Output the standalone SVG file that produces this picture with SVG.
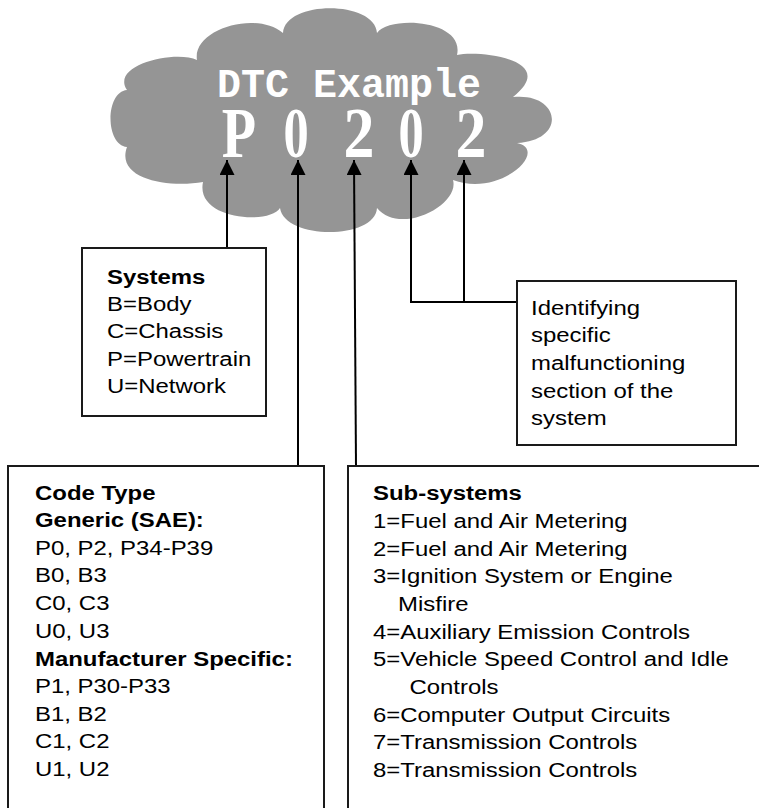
<svg xmlns="http://www.w3.org/2000/svg" width="759" height="808" viewBox="0 0 759 808">
<style>
.box{fill:#fff;stroke:#1a1a1a;stroke-width:2}
.t{font-family:"Liberation Sans",Arial,sans-serif;font-size:21px;fill:#000}
.b{font-weight:bold}
.conn{fill:none;stroke:#000;stroke-width:2}
.title{font-family:"Liberation Mono","Courier New",monospace;font-weight:bold;font-size:40px;fill:#fff}
.code{font-family:"Liberation Serif","Times New Roman",serif;font-weight:bold;font-size:72px;fill:#fff}
</style>
<defs>
<marker id="ah" markerUnits="userSpaceOnUse" markerWidth="16" markerHeight="16" refX="15" refY="7.5" orient="auto">
<path d="M0,0 L15,7.5 L0,15 Z" fill="#000"/>
</marker>
</defs>
<rect width="759" height="808" fill="#fff"/>
<g id="cloud">
<path fill="#959595" d="M197,60 C192,30 255,10 283,33 C285,0 375,0 377,33 C390,15 465,20 457,55 C480,50 560,60 513,97 C560,92 568,140 517,143 C550,150 500,198 453,180 C460,205 400,236 377,208 C375,240 285,240 280,208 C270,225 195,220 203,182 C170,188 115,180 127,147 C105,145 105,92 127,90 C110,65 175,50 197,60 Z"/>
<text class="title" x="217" y="97">DTC Example</text>
<text class="code" text-anchor="middle" transform="translate(239,157) scale(0.78,1)">P</text>
<text class="code" text-anchor="middle" transform="translate(296,157) scale(0.7,1)">0</text>
<text class="code" text-anchor="middle" transform="translate(359,157) scale(0.86,1)">2</text>
<text class="code" text-anchor="middle" transform="translate(411,157) scale(0.7,1)">0</text>
<text class="code" text-anchor="middle" transform="translate(471,157) scale(0.86,1)">2</text>
</g>
<g id="connectors">
<path class="conn" d="M227,248 V160" marker-end="url(#ah)"/>
<path class="conn" d="M298,466 V160" marker-end="url(#ah)"/>
<path class="conn" d="M356,466 L354,160" marker-end="url(#ah)"/>
<path class="conn" d="M517,302 H411 V160" marker-end="url(#ah)"/>
<path class="conn" d="M464,302 V160" marker-end="url(#ah)"/>
</g>
<g id="systems">
<rect class="box" x="82" y="248" width="184" height="168"/>
<g transform="translate(107,0) scale(1.14,1)">
<text class="t b" x="0" y="284">Systems</text>
<text class="t" x="0" y="311">B=Body</text>
<text class="t" x="0" y="338">C=Chassis</text>
<text class="t" x="0" y="366">P=Powertrain</text>
<text class="t" x="0" y="393">U=Network</text>
</g>
</g>
<g id="identifying">
<rect class="box" x="517" y="281" width="219" height="164"/>
<g transform="translate(531,0) scale(1.14,1)">
<text class="t" x="0" y="315">Identifying</text>
<text class="t" x="0" y="342">specific</text>
<text class="t" x="0" y="370">malfunctioning</text>
<text class="t" x="0" y="398">section of the</text>
<text class="t" x="0" y="425">system</text>
</g>
</g>
<g id="codetype">
<rect class="box" x="8" y="466" width="316" height="360"/>
<g transform="translate(35,0) scale(1.14,1)">
<text class="t b" x="0" y="500">Code Type</text>
<text class="t b" x="0" y="527">Generic (SAE):</text>
<text class="t" x="0" y="555">P0, P2, P34-P39</text>
<text class="t" x="0" y="582">B0, B3</text>
<text class="t" x="0" y="610">C0, C3</text>
<text class="t" x="0" y="638">U0, U3</text>
<text class="t b" x="0" y="666">Manufacturer Specific:</text>
<text class="t" x="0" y="693">P1, P30-P33</text>
<text class="t" x="0" y="721">B1, B2</text>
<text class="t" x="0" y="748">C1, C2</text>
<text class="t" x="0" y="776">U1, U2</text>
</g>
</g>
<g id="subsystems">
<rect class="box" x="348" y="466" width="430" height="360"/>
<g transform="translate(373,0) scale(1.14,1)">
<text class="t b" x="0" y="500">Sub-systems</text>
<text class="t" x="0" y="528">1=Fuel and Air Metering</text>
<text class="t" x="0" y="556">2=Fuel and Air Metering</text>
<text class="t" x="0" y="583">3=Ignition System or Engine</text>
<text class="t" x="22" y="611">Misfire</text>
<text class="t" x="0" y="639">4=Auxiliary Emission Controls</text>
<text class="t" x="0" y="666">5=Vehicle Speed Control and Idle</text>
<text class="t" x="32" y="694">Controls</text>
<text class="t" x="0" y="722">6=Computer Output Circuits</text>
<text class="t" x="0" y="749">7=Transmission Controls</text>
<text class="t" x="0" y="777">8=Transmission Controls</text>
</g>
</g>
</svg>
